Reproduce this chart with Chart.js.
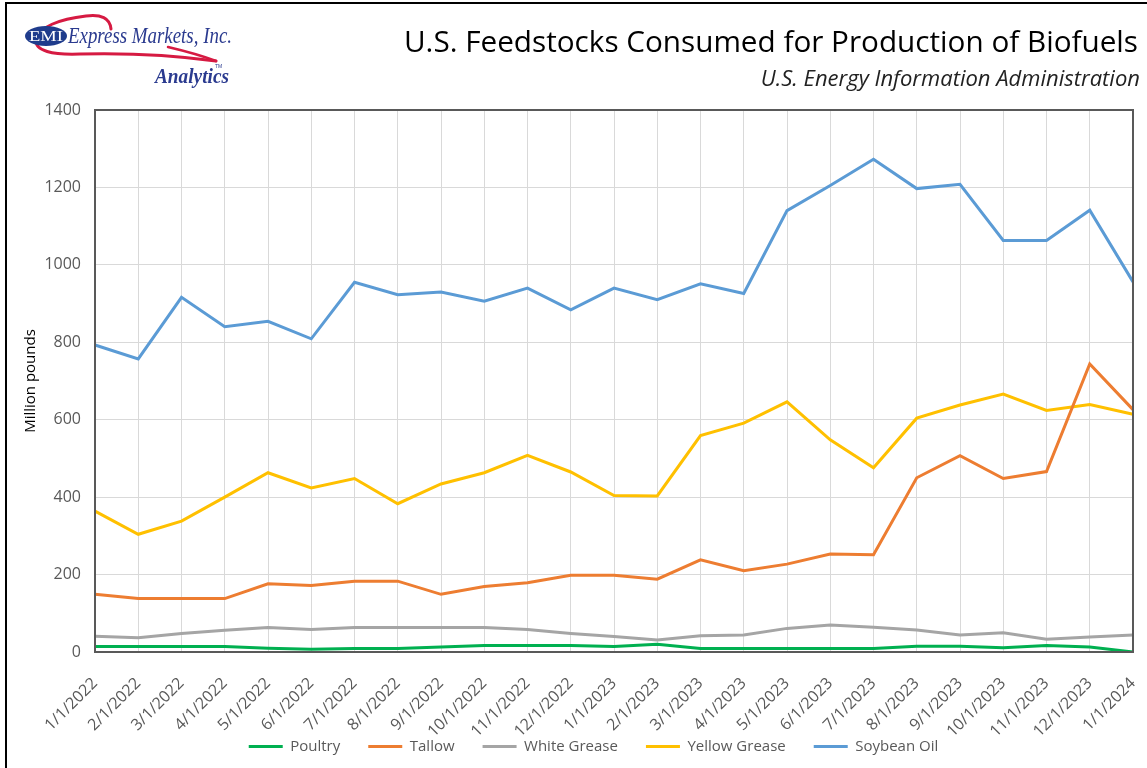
<!DOCTYPE html>
<html lang="en">
<head>
    <meta charset="UTF-8">
    <title>U.S. Feedstocks Consumed for Production of Biofuels</title>
    <script src="https://cdn.jsdelivr.net/npm/chart.js"></script>
    <style>
        html, body { margin: 0; padding: 0; background: #fff; }
        body { width: 1147px; height: 768px; position: relative; overflow: hidden; font-family: "Open Sans", Arial, sans-serif; }
        #frame { position: absolute; left: 5px; top: 2px; right: -10px; bottom: -10px; border-left: 2px solid #000; border-top: 2px solid #000; }
        #logo { position: absolute; left: 0; top: 0; }
        #title { position: absolute; right: 9px; top: 20px; font-size: 29.7px; color: #000; white-space: nowrap; }
        #subtitle { position: absolute; right: 7px; top: 62px; font-size: 22px; font-style: italic; color: #222; white-space: nowrap; }
        #wrap { position: absolute; left: 0; top: 0; width: 1147px; height: 768px; }
    </style>
</head>
<body>
    <div id="wrap"><canvas id="feedChart" width="1147" height="768"></canvas></div>
    <div id="frame"></div>
    <svg id="logo" width="250" height="95" viewBox="0 0 250 95">
        <!-- red swoosh behind the oval -->
        <path d="M111 29 C110 18, 101 14, 86 16 C60 19, 38 27, 36 40 C35 51, 52 55, 80 54 C120 53, 165 54, 216 61"
              fill="none" stroke="#d61a42" stroke-width="3" stroke-linecap="round"/>
        <path d="M168 47 C185 51, 200 55, 216 61" fill="none" stroke="#d61a42" stroke-width="2.5" stroke-linecap="round"/>
        <ellipse cx="46" cy="36" rx="21" ry="10" fill="#1f3c8c"/>
        <text x="46" y="41" text-anchor="middle" font-family="Liberation Serif, serif" font-size="14" fill="#fff"
              textLength="34" lengthAdjust="spacingAndGlyphs">EMI</text>
        <text x="68" y="43" font-family="Liberation Serif, serif" font-style="italic" font-size="24" fill="#2a3a8f"
              textLength="164" lengthAdjust="spacingAndGlyphs">Express Markets, Inc.</text>
        <text x="215" y="68" font-family="Liberation Sans, sans-serif" font-size="5" fill="#2a3a8f">TM</text>
        <text x="155" y="83" font-family="Liberation Serif, serif" font-style="italic" font-weight="bold" font-size="20" fill="#2a3a8f"
              textLength="74" lengthAdjust="spacingAndGlyphs">Analytics</text>
    </svg>
    <div id="title">U.S. Feedstocks Consumed for Production of Biofuels</div>
    <div id="subtitle">U.S. Energy Information Administration</div>

    <script>
        // monthly data, million pounds
        const months = ['1/1/2022', '2/1/2022', '3/1/2022', '4/1/2022', '5/1/2022', '6/1/2022', '7/1/2022',
            '8/1/2022', '9/1/2022', '10/1/2022', '11/1/2022', '12/1/2022', '1/1/2023', '2/1/2023', '3/1/2023',
            '4/1/2023', '5/1/2023', '6/1/2023', '7/1/2023', '8/1/2023', '9/1/2023', '10/1/2023', '11/1/2023',
            '12/1/2023', '1/1/2024'];
        const poultry = [14, 14, 14, 14, 10, 7, 9, 9, 13, 17, 17, 17, 14, 20, 9, 9, 9, 9, 9, 15, 15, 11, 17, 13, 0];
        const tallow = [149, 138, 138, 138, 176, 172, 183, 183, 149, 169, 179, 198, 198, 188, 238, 210, 227, 253, 251, 450, 507, 448, 466, 744, 626];
        const whiteGrease = [41, 37, 48, 56, 63, 58, 63, 63, 63, 63, 58, 48, 40, 31, 42, 44, 61, 70, 64, 57, 44, 50, 33, 39, 44];
        const yellowGrease = [364, 304, 338, 400, 463, 424, 448, 383, 434, 463, 508, 465, 404, 403, 559, 591, 646, 548, 476, 604, 638, 666, 624, 639, 614];
        const soybeanOil = [793, 757, 916, 840, 854, 809, 955, 923, 930, 906, 940, 884, 940, 910, 951, 926, 1140, 1205, 1273, 1197, 1208, 1063, 1063, 1141, 956];

        const seriesNames = ['Poultry', 'Tallow', 'White Grease', 'Yellow Grease', 'Soybean Oil'];
        const seriesColors = ['#00b050', '#ed7d31', '#a5a5a5', '#ffc000', '#5b9bd5'];
        const seriesData = [poultry, tallow, whiteGrease, yellowGrease, soybeanOil];

        const plotBottom = 652;
        const bottomPad = -40;      // lets the date labels use the space under the legend row
        const legendMid = 748;      // vertical centre of the legend row
        const legendShiftX = 27;
        const legendPad = 28;
        const legendFont = 15;
        const textGrey = '#595959';
        const font = '"Open Sans", Arial, sans-serif';

        // dark frame round the plot area
        const plotFrame = {
            id: 'plotFrame',
            afterDatasetsDraw(chart) {
                const a = chart.chartArea;
                const ctx = chart.ctx;
                ctx.save();
                ctx.strokeStyle = '#595959';
                ctx.lineWidth = 2;
                ctx.strokeRect(a.left, a.top, a.right - a.left, a.bottom - a.top);
                ctx.restore();
            }
        };

        // put the legend row back at its spot once the layout is done
        const legendSpot = {
            id: 'legendSpot',
            afterLayout(chart) {
                const lg = chart.legend;
                const h = lg.bottom - lg.top;
                lg.top = legendMid - legendPad - legendFont * 0.6;
                lg.bottom = lg.top + h;
                lg.left += legendShiftX;
                lg.right += legendShiftX;
            }
        };

        const ctx = document.getElementById('feedChart').getContext('2d');
        new Chart(ctx, {
            type: 'line',
            data: {
                labels: months,
                datasets: seriesNames.map((name, i) => ({
                    label: name,
                    data: seriesData[i],
                    borderColor: seriesColors[i],
                    backgroundColor: seriesColors[i],
                    borderWidth: 3,
                    pointRadius: 0,
                    tension: 0,
                    fill: false
                }))
            },
            options: {
                responsive: false,
                animation: false,
                layout: { padding: { top: 110, right: 14, left: 0, bottom: bottomPad } },
                plugins: {
                    tooltip: { enabled: false },
                    legend: {
                        position: 'bottom',
                        labels: {
                            boxWidth: 34,
                            boxHeight: 3,
                            padding: legendPad,
                            color: textGrey,
                            font: { family: font, size: legendFont },
                            generateLabels(chart) {
                                const items = Chart.defaults.plugins.legend.labels.generateLabels(chart);
                                items.forEach(it => { it.lineWidth = 0; });
                                return items;
                            }
                        }
                    }
                },
                scales: {
                    x: {
                        offset: false,
                        grid: { color: '#d9d9d9', drawTicks: false },
                        border: { display: false },
                        ticks: {
                            autoSkip: false,
                            minRotation: 45,
                            maxRotation: 45,
                            padding: 22,
                            color: textGrey,
                            font: { family: font, size: 16 }
                        },
                        afterFit(scale) {
                            scale.height = scale.chart.height - plotBottom - scale.chart.legend.height - bottomPad;
                            scale.paddingLeft = 0;
                            scale.paddingRight = 0;
                        }
                    },
                    y: {
                        min: 0,
                        max: 1400,
                        grid: { color: '#d9d9d9', drawTicks: false },
                        border: { display: false },
                        ticks: {
                            stepSize: 200,
                            padding: 14,
                            color: textGrey,
                            font: { family: font, size: 16 },
                            callback: v => String(v)
                        },
                        title: {
                            display: true,
                            text: 'Million pounds',
                            color: '#000',
                            padding: { top: 22, bottom: 0 },
                            font: { family: font, size: 15 }
                        },
                        afterFit(scale) {
                            scale.width = 95;
                        }
                    }
                }
            },
            plugins: [plotFrame, legendSpot]
        });
    </script>
</body>
</html>
